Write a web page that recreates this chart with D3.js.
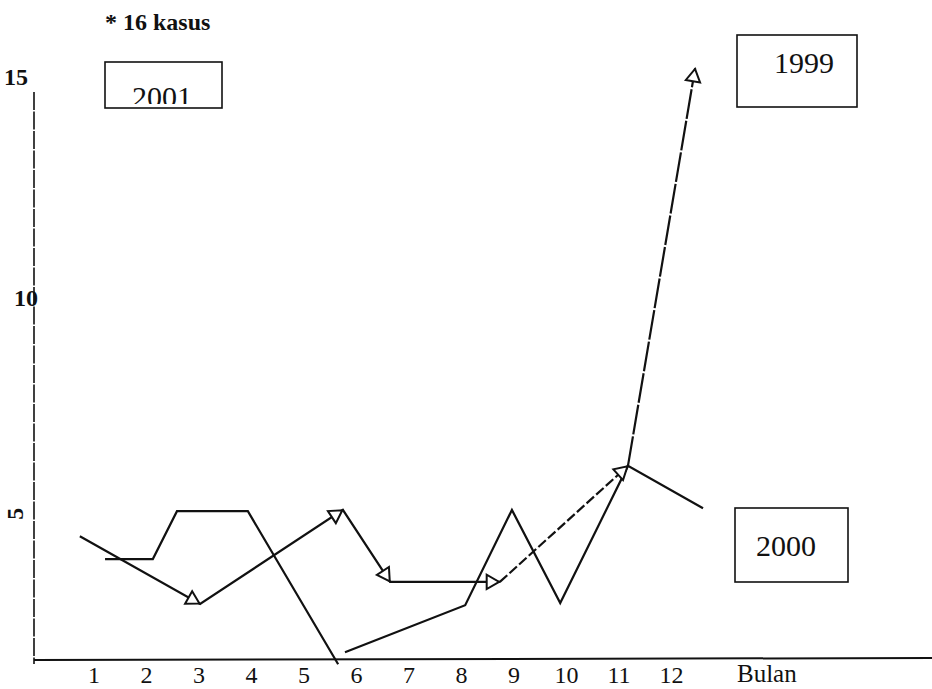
<!DOCTYPE html>
<html>
<head>
<meta charset="utf-8">
<script src="https://cdn.jsdelivr.net/npm/d3@7"></script>
<style>
  html, body { margin: 0; padding: 0; background: #fff; }
  svg { display: block; }
  text { font-family: "Liberation Serif", "Times New Roman", "DejaVu Serif", serif; fill: #111; }
</style>
</head>
<body>
<svg id="chart" width="932" height="689"></svg>
<script>
// ---- Data ----
const monthTicks = [1, 2, 3, 4, 5, 6, 7, 8, 9, 10, 11, 12];
const yTicks = [5, 10, 15];
const xTitle = "Bulan";
const note = "* 16 kasus";

const seriesNames = ["1999", "2000", "2001"];
// 1999 (line with arrow markers)
const x1999 = [0.74, 3.03, 5.75, 6.65, 8.74, 11.18, 12.46];
const y1999 = [4.47, 2.90, 5.08, 3.41, 3.41, 6.10, 15.32];
// 2000
const x2000 = [5.79, 8.08, 8.97, 9.89, 11.18, 12.61];
const y2000 = [1.78, 2.87, 5.08, 2.92, 6.10, 5.12];
// 2001
const x2001 = [1.22, 2.13, 2.59, 3.94, 5.66];
const y2001 = [3.94, 3.94, 5.05, 5.05, 1.50];

// ---- Layout ----
const svg = d3.select("#chart");
const axisX0 = 34, axisY0 = 660;
const x = d3.scaleLinear().domain([1, 12]).range([93.5, 671]);
const y = d3.scaleLinear().domain([1.6, 15]).range([axisY0, 82]);

const ink = "#111";

// axes lines
svg.append("line").attr("x1", axisX0).attr("x2", axisX0).attr("y1", 92).attr("y2", axisY0 + 4)
  .attr("stroke", ink).attr("stroke-width", 1.6).attr("stroke-dasharray", "18,1.5");
svg.append("line").attr("x1", axisX0).attr("x2", 932).attr("y1", axisY0).attr("y2", axisY0 - 2)
  .attr("stroke", ink).attr("stroke-width", 2);

// x tick labels
const gx = svg.append("g").attr("transform", `translate(0,${axisY0})`)
  .call(d3.axisBottom(x).tickValues(monthTicks).tickSize(0).tickPadding(6).tickFormat(d3.format("d")));
gx.select(".domain").remove();
gx.selectAll("text").attr("font-size", 24).attr("fill", ink);

svg.append("text").attr("x", 737).attr("y", 682).attr("font-size", 25).text(xTitle);

// y tick labels
const gy = svg.append("g").attr("transform", `translate(${axisX0 + 4},0)`)
  .call(d3.axisLeft(y).tickValues(yTicks).tickSize(0).tickPadding(0).tickFormat(d3.format("d")));
gy.select(".domain").remove();
gy.selectAll("text").attr("font-size", 24).attr("font-weight", "bold").attr("fill", ink);
gy.selectAll(".tick").filter(d => d === 5).select("text")
  .attr("transform", "translate(-23,0) rotate(-90)").attr("text-anchor", "middle").attr("dy", "0.35em");
gy.selectAll(".tick").filter(d => d === 15).select("text").attr("dx", -10).attr("dy", "0.1em");

// note
svg.append("text").attr("x", 105).attr("y", 30).attr("font-size", 24).attr("font-weight", "bold").text(note);

// lines
const line = d3.line().x(d => x(d[0])).y(d => y(d[1]));
const pts = (xs, ys) => xs.map((v, i) => [v, ys[i]]);

const p1999 = pts(x1999, y1999);
const p2000 = pts(x2000, y2000);
const p2001 = pts(x2001, y2001);

svg.append("path").attr("d", line(p2001)).attr("fill", "none").attr("stroke", ink).attr("stroke-width", 2.2);
svg.append("path").attr("d", line(p2000)).attr("fill", "none").attr("stroke", ink).attr("stroke-width", 2.2);
// 1999: solid first part, broken (dashed) last segments as in the scan
svg.append("path").attr("d", line(p1999.slice(0, 5))).attr("fill", "none").attr("stroke", ink).attr("stroke-width", 2.2);
svg.append("path").attr("d", line(p1999.slice(4, 6))).attr("fill", "none").attr("stroke", ink)
  .attr("stroke-width", 2.2).attr("stroke-dasharray", "10,3");
svg.append("path").attr("d", line(p1999.slice(5))).attr("fill", "none").attr("stroke", ink)
  .attr("stroke-width", 2.2).attr("stroke-dasharray", "30,2");

// arrow markers on 1999 series (at each vertex after the first, pointing along incoming segment)
const tri = d3.symbol().type(d3.symbolTriangle).size(90);
p1999.slice(1).forEach((p, i) => {
  const prev = p1999[i];
  const dx = x(p[0]) - x(prev[0]), dy = y(p[1]) - y(prev[1]);
  const ang = Math.atan2(dy, dx) * 180 / Math.PI + 90;
  const len = Math.hypot(dx, dy);
  const back = 9;
  const cx = x(p[0]) - dx / len * back, cy = y(p[1]) - dy / len * back;
  svg.append("path").attr("d", tri())
    .attr("transform", `translate(${cx},${cy}) rotate(${ang})`)
    .attr("fill", "#fff").attr("stroke", ink).attr("stroke-width", 2);
});

// labels in boxes
const boxes = [
  { name: seriesNames[2], x: 105, y: 62, w: 117, h: 46, tx: 162, ty: 107, clip: true },
  { name: seriesNames[0], x: 737, y: 35, w: 120, h: 72, tx: 804, ty: 73, clip: false },
  { name: seriesNames[1], x: 735, y: 508, w: 113, h: 74, tx: 786, ty: 556, clip: false }
];
const defs = svg.append("defs");
boxes.forEach((b, i) => {
  svg.append("rect").attr("x", b.x).attr("y", b.y).attr("width", b.w).attr("height", b.h)
    .attr("fill", "none").attr("stroke", ink).attr("stroke-width", 1.6);
  const t = svg.append("text").attr("x", b.tx).attr("y", b.ty).attr("text-anchor", "middle")
    .attr("font-size", 30).text(b.name);
  if (b.clip) {
    defs.append("clipPath").attr("id", "clip" + i).append("rect")
      .attr("x", b.x).attr("y", b.y).attr("width", b.w).attr("height", b.h - 4);
    t.attr("clip-path", `url(#clip${i})`);
  }
});
</script>
</body>
</html>
